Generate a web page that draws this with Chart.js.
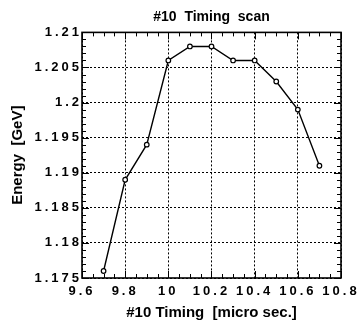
<!DOCTYPE html>
<html>
<head>
<meta charset="utf-8">
<script src="https://cdn.jsdelivr.net/npm/chart.js@4/dist/chart.umd.min.js"></script>
<style>
  html, body { margin: 0; padding: 0; background: #fff; }
  #box { width: 361px; height: 320px; }
</style>
</head>
<body>
<div id="box"><canvas id="chart"></canvas></div>
<script>
// timing scan data
const timing = [9.7, 9.8, 9.9, 10.0, 10.1, 10.2, 10.3, 10.4, 10.5, 10.6, 10.7];
const energy = [1.176, 1.189, 1.194, 1.206, 1.208, 1.208, 1.206, 1.206, 1.203, 1.199, 1.191];

const xRange = [9.6, 10.8];
const yRange = [1.175, 1.21];
const xStep = 0.2, xMinor = 0.05;
const yStep = 0.005, yMinor = 0.001;

const FONT = "'Liberation Sans', Arial, sans-serif";

// frame + inward tick marks (major and minor) on all four sides
const frameTicks = {
    id: "frameTicks",
    afterDatasetsDraw(chart) {
        const { ctx, chartArea: a, scales } = chart;
        const x = scales.x, y = scales.y;
        ctx.save();
        ctx.strokeStyle = "#000";
        ctx.lineWidth = 1;
        ctx.beginPath();
        const nx = Math.round((xRange[1] - xRange[0]) / xMinor);
        for (let i = 0; i <= nx; i++) {
            const px = Math.round(x.getPixelForValue(xRange[0] + i * xMinor)) + 0.5;
            const len = i % 4 === 0 ? 7 : 4;
            ctx.moveTo(px, a.bottom); ctx.lineTo(px, a.bottom - len);
            ctx.moveTo(px, a.top); ctx.lineTo(px, a.top + len);
        }
        const ny = Math.round((yRange[1] - yRange[0]) / yMinor);
        for (let i = 0; i <= ny; i++) {
            const py = Math.round(y.getPixelForValue(yRange[0] + i * yMinor)) + 0.5;
            const len = i % 5 === 0 ? 7 : 4;
            ctx.moveTo(a.left, py); ctx.lineTo(a.left + len, py);
            ctx.moveTo(a.right, py); ctx.lineTo(a.right - len, py);
        }
        ctx.stroke();
        ctx.lineWidth = 1.6;
        ctx.strokeRect(a.left, a.top, a.right - a.left, a.bottom - a.top);
        ctx.restore();
    }
};

// wide letter spacing for the tick numbers only
const spacedTicks = {
    id: "spacedTicks",
    beforeDraw(chart) {
        Object.values(chart.scales).forEach(scale => {
            if (scale._spaced) return;
            const orig = scale.drawLabels;
            scale.drawLabels = function (area) {
                this.ctx.letterSpacing = "3px";
                orig.call(this, area);
                this.ctx.letterSpacing = "0px";
            };
            scale._spaced = true;
        });
    }
};

const fmt = v => String(Number(v.toFixed(3)));

new Chart(document.getElementById("chart"), {
    type: "line",
    data: {
        datasets: [{
            data: timing.map((t, i) => ({ x: t, y: energy[i] })),
            borderColor: "#000",
            borderWidth: 1.4,
            pointRadius: 2.3,
            pointBorderWidth: 1.2,
            pointBackgroundColor: "#fff",
            pointBorderColor: "#000",
            tension: 0
        }]
    },
    options: {
        responsive: true,
        maintainAspectRatio: false,
        animation: false,
        layout: { padding: { left: 0, right: 20, top: 2, bottom: 0 } },
        plugins: {
            legend: { display: false },
            tooltip: { enabled: false },
            title: {
                display: true,
                text: "#10  Timing  scan",
                fullSize: false,
                color: "#000",
                font: { family: FONT, size: 14, weight: "bold", lineHeight: 1.1 },
                padding: { top: 7, bottom: 8 }
            }
        },
        scales: {
            x: {
                type: "linear",
                min: xRange[0], max: xRange[1],
                afterFit: s => { s.height = 42; },
                border: { display: false, dash: [2, 2] },
                grid: { color: "#000", lineWidth: 1, drawTicks: false },
                ticks: {
                    stepSize: xStep, padding: 6, color: "#000", maxRotation: 0,
                    font: { family: FONT, size: 13, weight: "bold" },
                    callback: v => fmt(v)
                },
                title: {
                    display: true, text: "#10 Timing  [micro sec.]", color: "#000",
                    font: { family: FONT, size: 15, weight: "bold", lineHeight: 1 },
                    padding: { top: 0, bottom: 0 }
                }
            },
            y: {
                type: "linear",
                min: yRange[0], max: yRange[1],
                afterFit: s => { s.width = 82; },
                border: { display: false, dash: [2, 2] },
                grid: { color: "#000", lineWidth: 1, drawTicks: false },
                ticks: {
                    stepSize: yStep, padding: 0, color: "#000",
                    font: { family: FONT, size: 13, weight: "bold" },
                    callback: v => fmt(v)
                },
                title: {
                    display: true, text: "Energy  [GeV]", color: "#000",
                    font: { family: FONT, size: 15, weight: "bold", lineHeight: 1.1 },
                    padding: { top: 10, bottom: 0 }
                }
            }
        }
    },
    plugins: [spacedTicks, frameTicks]
});
</script>
</body>
</html>
